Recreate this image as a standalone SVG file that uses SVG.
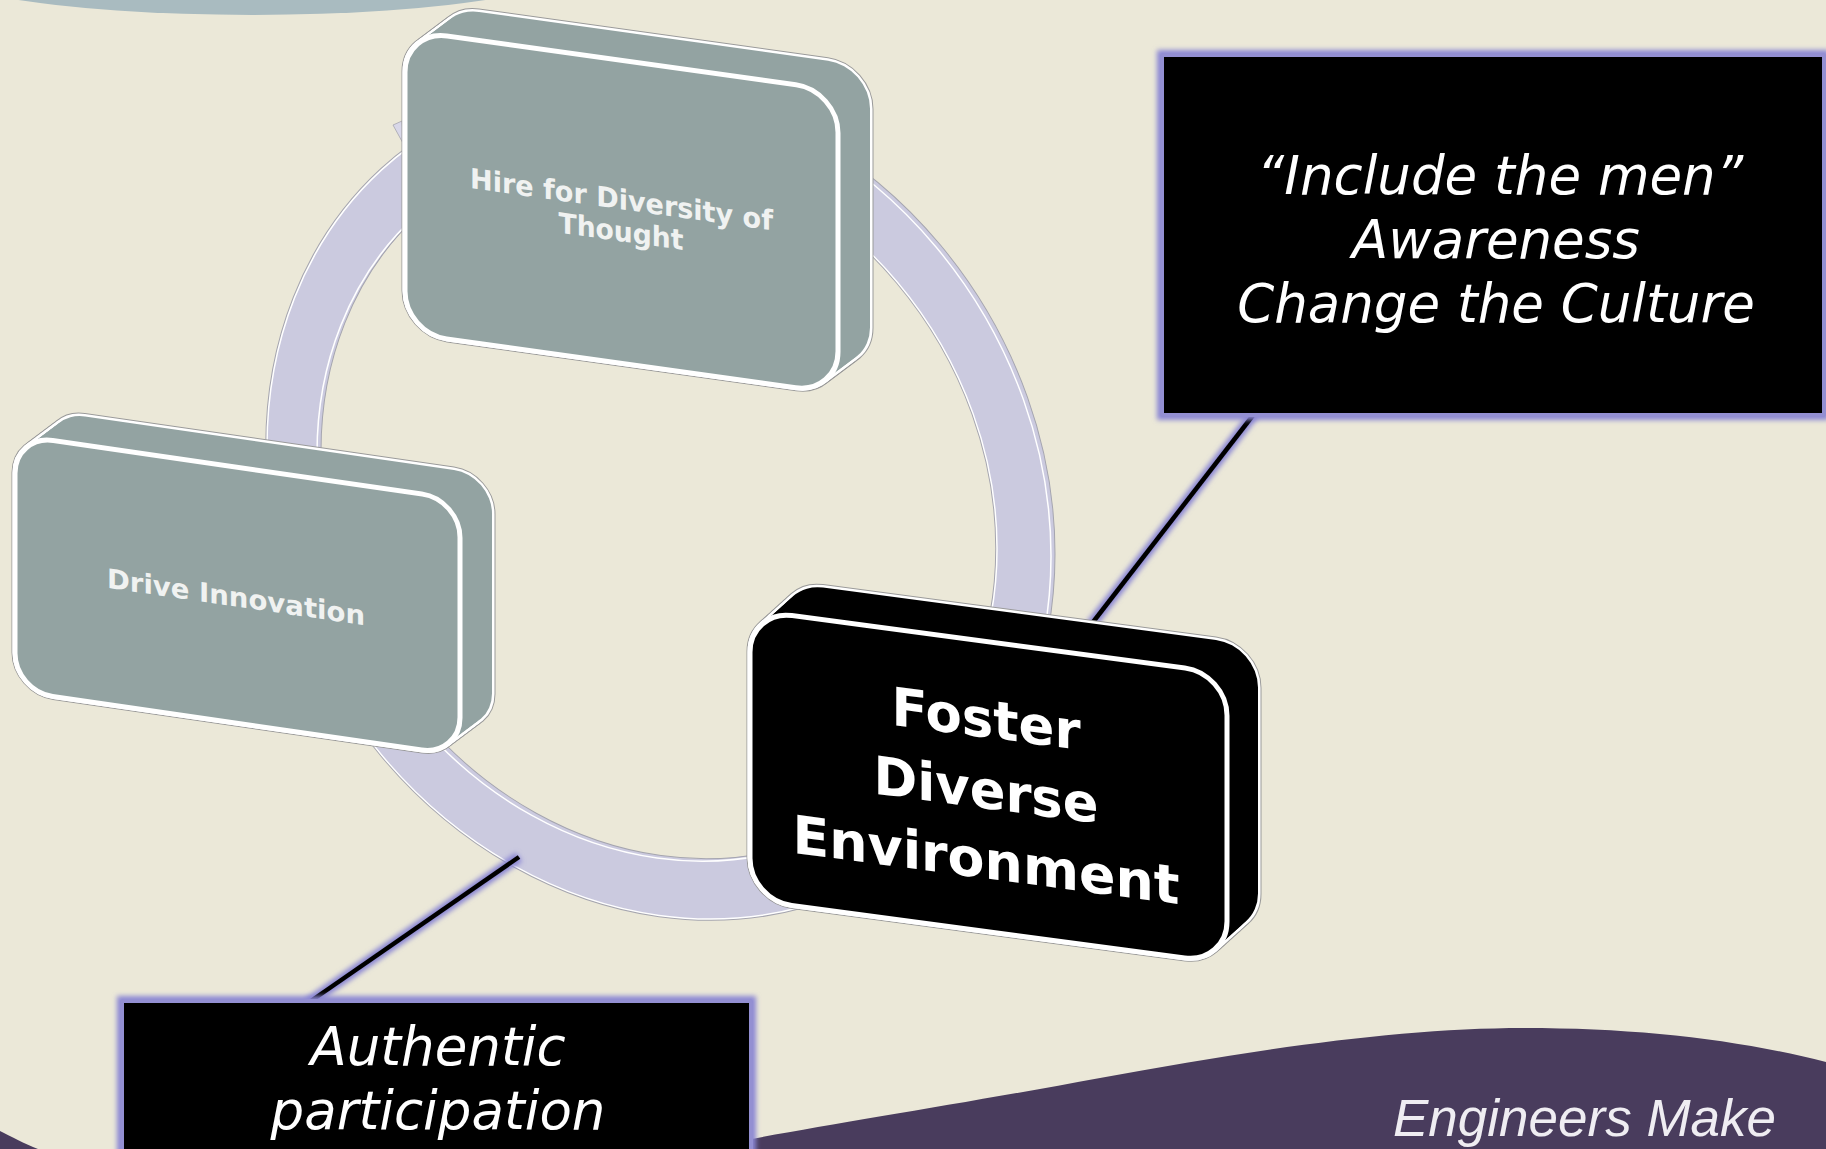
<svg xmlns="http://www.w3.org/2000/svg" xmlns:xlink="http://www.w3.org/1999/xlink" width="1826" height="1149" viewBox="0 0 1826 1149">
<defs>
<style>
.ntxt{font-family:"DejaVu Sans",Verdana,sans-serif;font-weight:bold;text-anchor:middle}
.ctxt{font-family:"DejaVu Sans",Verdana,sans-serif;font-style:italic;font-size:53px;fill:#ffffff;text-anchor:middle}
.glow{fill:none;stroke:#8A86D4;filter:url(#blur)}
.cbox{fill:#000;stroke:#938FD2;stroke-width:4}
.cline{stroke:#000;stroke-width:4.5}
</style>
<filter id="blur" filterUnits="userSpaceOnUse" x="0" y="0" width="1826" height="1149"><feGaussianBlur stdDeviation="2.5"/></filter>
<rect id="fH" width="433" height="303" rx="42"/>
<rect id="fD" width="445" height="256" rx="38"/>
<rect id="fF" width="477" height="290" rx="42"/>
<path id="ringP" d="M267,409 a392,414 0 1,0 784,0 a392,414 0 1,0 -784,0 Z M317,409 a340,357 0 1,0 680,0 a340,357 0 1,0 -680,0 Z"/>
<g id="bodyH">
<use xlink:href="#fH" transform="translate(405,30) skewY(7.97)"/>
<use xlink:href="#fH" transform="translate(409,27) skewY(7.97)"/>
<use xlink:href="#fH" transform="translate(413,24) skewY(7.97)"/>
<use xlink:href="#fH" transform="translate(417,21) skewY(7.97)"/>
<use xlink:href="#fH" transform="translate(421,18) skewY(7.97)"/>
<use xlink:href="#fH" transform="translate(425,15) skewY(7.97)"/>
<use xlink:href="#fH" transform="translate(429,12) skewY(7.97)"/>
<use xlink:href="#fH" transform="translate(433,9) skewY(7.97)"/>
<use xlink:href="#fH" transform="translate(437,6) skewY(7.97)"/>
</g>
<g id="bodyD">
<use xlink:href="#fD" transform="translate(15,435) skewY(8.25)"/>
<use xlink:href="#fD" transform="translate(19,432) skewY(8.25)"/>
<use xlink:href="#fD" transform="translate(23,429) skewY(8.25)"/>
<use xlink:href="#fD" transform="translate(27,426) skewY(8.25)"/>
<use xlink:href="#fD" transform="translate(31,423) skewY(8.25)"/>
<use xlink:href="#fD" transform="translate(35,420) skewY(8.25)"/>
<use xlink:href="#fD" transform="translate(39,417) skewY(8.25)"/>
<use xlink:href="#fD" transform="translate(43,414) skewY(8.25)"/>
<use xlink:href="#fD" transform="translate(47,411) skewY(8.25)"/>
</g>
<g id="bodyF">
<use xlink:href="#fF" transform="translate(750,610) skewY(7.58)"/>
<use xlink:href="#fF" transform="translate(753.9,606.5) skewY(7.58)"/>
<use xlink:href="#fF" transform="translate(757.8,603) skewY(7.58)"/>
<use xlink:href="#fF" transform="translate(761.6,599.5) skewY(7.58)"/>
<use xlink:href="#fF" transform="translate(765.5,596) skewY(7.58)"/>
<use xlink:href="#fF" transform="translate(769.4,592.5) skewY(7.58)"/>
<use xlink:href="#fF" transform="translate(773.3,589) skewY(7.58)"/>
<use xlink:href="#fF" transform="translate(777.1,585.5) skewY(7.58)"/>
<use xlink:href="#fF" transform="translate(781,582) skewY(7.58)"/>
</g>
</defs>

<rect width="1826" height="1149" fill="#EBE8D8"/>
<ellipse cx="252" cy="-45" rx="353" ry="60" fill="#A9BBC0"/>
<path d="M700,1149 C780,1132 950,1106 1100,1078 C1250,1050 1400,1028 1524,1028 C1640,1028 1740,1040 1826,1062 L1826,1149 Z" fill="#493C5D"/>
<path d="M0,1131 C10,1136 25,1144 38,1149 L0,1149 Z" fill="#493C5D"/>
<text x="1393" y="1136" font-family="Liberation Sans, Arial, sans-serif" font-style="italic" font-size="51" fill="#EFEDF2" textLength="383" lengthAdjust="spacingAndGlyphs">Engineers Make</text>

<g id="cycle-ring">
<g transform="skewY(7.97)">
<use xlink:href="#ringP" fill="#CBCADF" fill-rule="evenodd" stroke="#A5A5AF" stroke-width="3.5"/>
<use xlink:href="#ringP" transform="translate(4,-3)" fill="#CBCADF" fill-rule="evenodd" stroke="#A5A5AF" stroke-width="1"/>
<use xlink:href="#ringP" fill="#CBCADF" fill-rule="evenodd" stroke="#ffffff" stroke-width="1.5"/>
</g>
<polygon points="393,125 402,121 404,145" fill="#D8D7E8" stroke="#A5A5AF" stroke-width="0.8"/>
</g>

<g id="connectors">
<line class="glow" x1="1254" y1="414" x2="1090" y2="626" stroke-width="11"/>
<line class="cline" x1="1254" y1="414" x2="1090" y2="626"/>
<line class="glow" x1="308" y1="1003" x2="519" y2="857" stroke-width="11"/>
<line class="cline" x1="308" y1="1003" x2="519" y2="857"/>
</g>

<g id="node-hire">
<use xlink:href="#bodyH" fill="#93A3A2" stroke="#9a9a9a" stroke-width="7"/>
<use xlink:href="#bodyH" fill="#93A3A2" stroke="#ffffff" stroke-width="5"/>
<use xlink:href="#bodyH" fill="#93A3A2"/>
<g transform="translate(405,30) skewY(7.97)">
<use xlink:href="#fH" fill="#93A3A2" stroke="#ffffff" stroke-width="5"/>
<text class="ntxt" x="216.5" y="149" font-size="28" fill="#F0F2F1" textLength="303" lengthAdjust="spacingAndGlyphs">Hire for Diversity of</text>
<text class="ntxt" x="216" y="181" font-size="28" fill="#F0F2F1" textLength="125" lengthAdjust="spacingAndGlyphs">Thought</text>
</g>
</g>

<g id="node-drive">
<use xlink:href="#bodyD" fill="#93A3A2" stroke="#9a9a9a" stroke-width="7"/>
<use xlink:href="#bodyD" fill="#93A3A2" stroke="#ffffff" stroke-width="5"/>
<use xlink:href="#bodyD" fill="#93A3A2"/>
<g transform="translate(15,435) skewY(8.25)">
<use xlink:href="#fD" fill="#93A3A2" stroke="#ffffff" stroke-width="5"/>
<text class="ntxt" x="221" y="139.5" font-size="27" fill="#F0F2F1" textLength="258" lengthAdjust="spacingAndGlyphs">Drive Innovation</text>
</g>
</g>

<g id="node-foster">
<use xlink:href="#bodyF" fill="#000" stroke="#9a9a9a" stroke-width="7"/>
<use xlink:href="#bodyF" fill="#000" stroke="#ffffff" stroke-width="5"/>
<use xlink:href="#bodyF" fill="#000"/>
<g transform="translate(750,610) skewY(7.58)">
<use xlink:href="#fF" fill="#000" stroke="#ffffff" stroke-width="5"/>
<text class="ntxt" x="236" y="96" font-size="53" fill="#ffffff" textLength="189" lengthAdjust="spacingAndGlyphs">Foster</text>
<text class="ntxt" x="236" y="167" font-size="53" fill="#ffffff" textLength="225" lengthAdjust="spacingAndGlyphs">Diverse</text>
<text class="ntxt" x="236" y="237" font-size="53" fill="#ffffff" textLength="387" lengthAdjust="spacingAndGlyphs">Environment</text>
</g>
</g>

<g id="callout-include">
<rect class="glow" x="1162" y="55" width="662" height="360" stroke-width="10"/>
<rect class="cbox" x="1162" y="55" width="662" height="360" rx="2"/>
<text class="ctxt" x="1500" y="194">“Include the men”</text>
<text class="ctxt" x="1496" y="258">Awareness</text>
<text class="ctxt" x="1496" y="322">Change the Culture</text>
</g>

<g id="callout-authentic">
<rect class="glow" x="122" y="1001" width="629" height="180" stroke-width="10"/>
<rect class="cbox" x="122" y="1001" width="629" height="180" rx="2"/>
<text class="ctxt" x="438" y="1065">Authentic</text>
<text class="ctxt" x="438" y="1129">participation</text>
</g>
</svg>
